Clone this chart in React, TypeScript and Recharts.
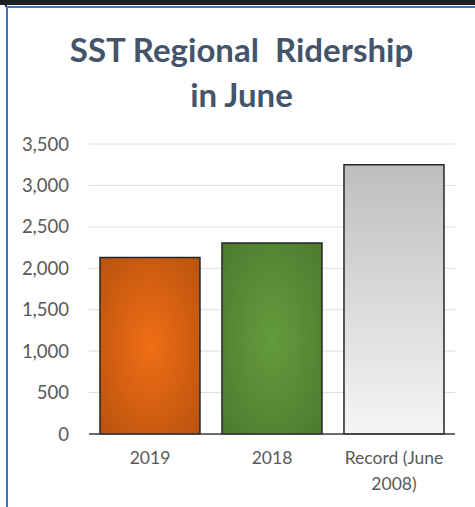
import { BarChart, Bar, XAxis, YAxis, CartesianGrid, Cell, Text } from "recharts";

// categories and values
const categories = ["2019", "2018", "Record (June 2008)"];
const riders = [2130, 2305, 3250];
const yTicks = [0, 500, 1000, 1500, 2000, 2500, 3000, 3500];

const data = categories.map((name, i) => ({ name, riders: riders[i] }));

const FONT = "Lato, 'Open Sans', sans-serif";
const fills = ["url(#gOrange)", "url(#gGreen)", "url(#gGray)"];

function WrapTick(props: any) {
  const { x, y, payload } = props;
  return (
    <Text
      x={x}
      y={y}
      width={115}
      textAnchor="middle"
      verticalAnchor="start"
      lineHeight={26}
      fill="#595959"
      style={{ fontSize: 17.5, fontFamily: FONT }}
    >
      {payload.value}
    </Text>
  );
}

export default function App() {
  return (
    <div style={{ position: "absolute", left: 0, top: 0, width: 475, height: 507, background: "#fff", overflow: "hidden" }}>
      {/* frame bits from the screenshot */}
      <div style={{ position: "absolute", left: 0, top: 0, width: 475, height: 5, background: "#1f1f1f" }} />
      <div style={{ position: "absolute", left: 5, top: 0, width: 2, height: 7, background: "#1f1f1f" }} />
      <div style={{ position: "absolute", left: 6, top: 6, width: 469, height: 2, background: "#4472C4" }} />
      <div style={{ position: "absolute", left: 6, top: 6, width: 2, height: 501, background: "#4472C4" }} />

      <div
        style={{
          position: "absolute",
          left: 0,
          top: 27,
          width: 483,
          textAlign: "center",
          fontFamily: FONT,
          fontWeight: 700,
          fontSize: 33,
          lineHeight: "45px",
          color: "#44546A",
        }}
      >
        SST Regional&nbsp; Ridership
        <br />
        in June
      </div>

      <BarChart
        width={475}
        height={507}
        data={data}
        margin={{ top: 144, right: 20, bottom: 0, left: 0 }}
        barCategoryGap="9%"
        style={{ position: "absolute", left: 0, top: 0 }}
      >
        <defs>
          <radialGradient id="gOrange" cx="50%" cy="50%" r="70%">
            <stop offset="0%" stopColor="#F06E16" />
            <stop offset="100%" stopColor="#B9520E" />
          </radialGradient>
          <radialGradient id="gGreen" cx="50%" cy="50%" r="70%">
            <stop offset="0%" stopColor="#649B3E" />
            <stop offset="100%" stopColor="#4C7A2E" />
          </radialGradient>
          <linearGradient id="gGray" x1="0" y1="0" x2="0" y2="1">
            <stop offset="0%" stopColor="#BEBEBE" />
            <stop offset="100%" stopColor="#F5F5F5" />
          </linearGradient>
        </defs>
        <CartesianGrid vertical={false} stroke="#D9DEE8" />
        <XAxis
          dataKey="name"
          height={73}
          axisLine={{ stroke: "#404040", strokeWidth: 1.5 }}
          tickLine={false}
          tickSize={0}
          tickMargin={18}
          interval={0}
          tick={<WrapTick />}
        />
        <YAxis
          width={89}
          domain={[0, 3500]}
          ticks={yTicks}
          axisLine={false}
          tickLine={false}
          tickSize={0}
          tickMargin={20}
          tickFormatter={(v: number) => v.toLocaleString("en-US")}
          tick={{ fill: "#595959", fontSize: 18.5, fontFamily: FONT }}
        />
        <Bar dataKey="riders" stroke="#262626" strokeWidth={1.5} isAnimationActive={false}>
          {data.map((d, i) => (
            <Cell key={d.name} fill={fills[i]} />
          ))}
        </Bar>
      </BarChart>
    </div>
  );
}
